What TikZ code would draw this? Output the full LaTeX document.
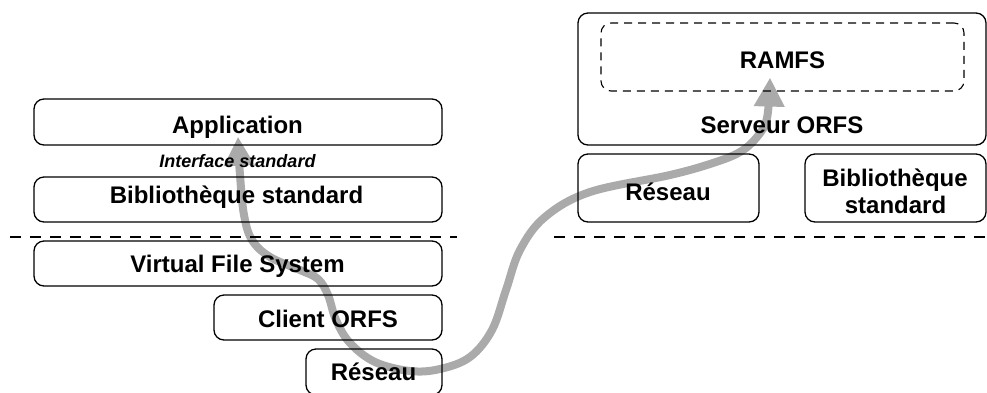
\documentclass[tikz,border=0pt]{standalone}
\usepackage{fontspec}
\setmainfont{Liberation Sans}
\usetikzlibrary{arrows.meta,backgrounds}
\definecolor{flow}{RGB}{170,170,170}
\begin{document}
\begin{tikzpicture}[x=1pt,y=-1pt,
  layerbox/.style={draw=black, line width=1.3pt, rounded corners=10pt, inner sep=0pt},
  dashbox/.style={layerbox, line width=1.1pt, dash pattern=on 8pt off 6pt},
  lbl/.style={font=\bfseries\fontsize{24}{28}\selectfont, anchor=base, inner sep=0pt},
  ilbl/.style={lbl, font=\bfseries\itshape\fontsize{18}{22}\selectfont},
  sepline/.style={draw=black, line width=1.2pt, dash pattern=on 11pt off 9pt},
  flowline/.style={draw=flow, line width=8pt,
    {Triangle[width=29pt,length=29pt]}-{Triangle[width=29pt,length=29pt]}},
]
\useasboundingbox (0,0) rectangle (987,392);
% left stack
\node[layerbox, minimum width=408pt, minimum height=46pt] (app) at (238,122) {};
\node[layerbox, minimum width=408pt, minimum height=45pt] (lib) at (238,199.5) {};
\node[layerbox, minimum width=408pt, minimum height=45pt] (vfs) at (238,263.5) {};
\node[layerbox, minimum width=228pt, minimum height=45pt] (client) at (328,317.5) {};
\node[layerbox, minimum width=136pt, minimum height=46pt] (resL) at (374,372) {};
% right stack
\node[layerbox, minimum width=408pt, minimum height=132pt] (serv) at (782,79) {};
\node[dashbox, minimum width=363pt, minimum height=68pt] (ramfs) at (782.5,57) {};
\node[layerbox, minimum width=181pt, minimum height=68pt] (resR) at (668.5,188) {};
\node[layerbox, minimum width=181pt, minimum height=68pt] (libR) at (895.5,188) {};
% labels
\node[lbl] (tApp) at (237.5,133) {Application};
\node[ilbl] (tIf) at (237.5,167) {Interface standard};
\node[lbl] (tLib) at (236.5,203) {Bibliothèque standard};
\node[lbl] (tVfs) at (237.5,272) {Virtual File System};
\node[lbl] (tCli) at (328,327) {Client ORFS};
\node[lbl] (tResL) at (373.5,380) {Réseau};
\node[lbl] (tRam) at (782.5,68.5) {RAMFS};
\node[lbl] (tServ) at (782,133.5) {Serveur ORFS};
\node[lbl] (tResR) at (668,200) {Réseau};
\node[lbl] (tLibR1) at (895,186) {Bibliothèque};
\node[lbl] (tLibR2) at (895.5,213.5) {standard};
% separators
\coordinate (dl1) at (10,237);
\coordinate (dl2) at (457,237);
\coordinate (dr1) at (554,237);
\coordinate (dr2) at (987,237);
\draw[sepline] (dl1) -- (dl2);
\draw[sepline] (dr1) -- (dr2);
% flow arrow
\begin{scope}[on background layer]
\coordinate (tipA) at ([yshift=9pt]app.south);
\coordinate (tipB) at ([xshift=-12.5pt,yshift=14pt]ramfs.south);
\draw[flowline] plot[smooth, tension=0.6] coordinates {
  (tipA) (240,175) (244,215) (252,240) (270,257) (300,270) (318,279)
  (328,295) (336,320) (350,343) (375,362) (410,371) (440,369) (470,357)
  (492,330) (506,290) (520,250) (545,217) (590,192) (670,175) (713,163)
  (740,152) (757,137) (767,118) (tipB)};
\end{scope}
\end{tikzpicture}
\end{document}
